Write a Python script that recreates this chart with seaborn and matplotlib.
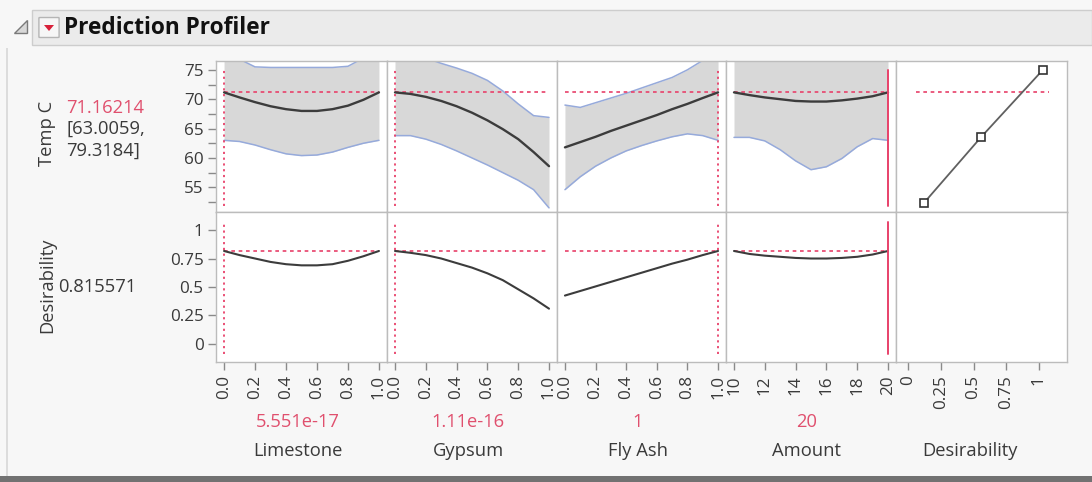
import matplotlib
matplotlib.use("Agg")
import matplotlib.pyplot as plt
from matplotlib.patches import Rectangle, FancyBboxPatch, Polygon
import numpy as np
import pandas as pd
import seaborn as sns

# ---------------- data ----------------
factor_names = ["Limestone", "Gypsum", "Fly Ash", "Amount"]
current_values = [5.551e-17, 1.11e-16, 1.0, 20.0]
current_labels = ["5.551e-17", "1.11e-16", "1", "20"]
factor_ranges = [(0.0, 1.0), (0.0, 1.0), (0.0, 1.0), (10.0, 20.0)]
mixture_ticks = [0.0, 0.2, 0.4, 0.6, 0.8, 1.0]
mixture_ticklabels = ["0.0", "0.2", "0.4", "0.6", "0.8", "1.0"]
amount_ticks = [10, 12, 14, 16, 18, 20]
amount_ticklabels = ["10", "12", "14", "16", "18", "20"]

mixture_grid = [0.0, 0.1, 0.2, 0.3, 0.4, 0.5, 0.6, 0.7, 0.8, 0.9, 1.0]
amount_grid = [10, 11, 12, 13, 14, 15, 16, 17, 18, 19, 20]

temp_mean_limestone = [71.16, 70.3, 69.5, 68.8, 68.3, 68.0, 68.0, 68.3, 68.9, 69.9, 71.16]
temp_lower_limestone = [63.0, 62.8, 62.2, 61.4, 60.7, 60.4, 60.5, 61.0, 61.8, 62.5, 63.0]
temp_upper_limestone = [79.3, 76.8, 75.5, 75.4, 75.4, 75.4, 75.4, 75.4, 75.6, 77.0, 79.3]

temp_mean_gypsum = [71.16, 70.9, 70.4, 69.7, 68.8, 67.7, 66.4, 64.9, 63.2, 61.0, 58.6]
temp_lower_gypsum = [63.8, 63.8, 63.2, 62.3, 61.2, 60.0, 58.8, 57.5, 56.2, 54.6, 51.5]
temp_upper_gypsum = [78.5, 77.8, 77.0, 76.1, 75.3, 74.4, 73.2, 71.4, 69.2, 67.2, 66.9]

temp_mean_flyash = [61.8, 62.7, 63.6, 64.6, 65.5, 66.4, 67.3, 68.3, 69.2, 70.2, 71.16]
temp_lower_flyash = [54.6, 56.8, 58.6, 60.0, 61.2, 62.1, 62.9, 63.6, 64.1, 63.8, 63.0]
temp_upper_flyash = [69.0, 68.6, 69.4, 70.2, 71.0, 71.9, 72.8, 73.7, 75.0, 76.6, 79.3]

temp_mean_amount = [71.16, 70.7, 70.3, 70.0, 69.7, 69.6, 69.6, 69.8, 70.1, 70.5, 71.16]
temp_lower_amount = [63.5, 63.5, 62.9, 61.4, 59.5, 58.0, 58.5, 59.9, 61.9, 63.3, 63.0]
temp_upper_amount = [78.8, 77.8, 77.6, 78.5, 79.8, 81.3, 81.0, 79.8, 78.3, 77.7, 79.3]

desir_limestone = [0.816, 0.78, 0.75, 0.72, 0.70, 0.69, 0.69, 0.70, 0.73, 0.77, 0.816]
desir_gypsum = [0.816, 0.80, 0.78, 0.75, 0.71, 0.67, 0.62, 0.56, 0.48, 0.40, 0.31]
desir_flyash = [0.425, 0.465, 0.505, 0.545, 0.585, 0.625, 0.665, 0.705, 0.74, 0.78, 0.816]
desir_amount = [0.816, 0.79, 0.775, 0.765, 0.755, 0.75, 0.75, 0.755, 0.765, 0.785, 0.816]

predicted_temp = 71.16214
temp_ci = ["63.0059", "79.3184"]
overall_desirability = 0.815571

desir_fn_desirability = [0.12, 0.56, 1.03]
desir_fn_temp = [52.3, 63.6, 75.0]

temp_yticks = [55, 60, 65, 70, 75]
temp_minor_yticks = [52.5, 57.5, 62.5, 67.5, 72.5]
desir_ticks = [0, 0.25, 0.5, 0.75, 1]
desir_ticklabels = ["0", "0.25", "0.5", "0.75", "1"]

grids = [mixture_grid, mixture_grid, mixture_grid, amount_grid]
temp_means = [temp_mean_limestone, temp_mean_gypsum, temp_mean_flyash, temp_mean_amount]
temp_lowers = [temp_lower_limestone, temp_lower_gypsum, temp_lower_flyash, temp_lower_amount]
temp_uppers = [temp_upper_limestone, temp_upper_gypsum, temp_upper_flyash, temp_upper_amount]
desirs = [desir_limestone, desir_gypsum, desir_flyash, desir_amount]
tick_sets = [(mixture_ticks, mixture_ticklabels)] * 3 + [(amount_ticks, amount_ticklabels)]

# ---------------- style ----------------
sns.set_theme(style="white")
plt.rcParams["font.family"] = ["Open Sans", "DejaVu Sans"]

W, H = 1092, 482
RED = "#e8416a"
REDTXT = "#e0506e"
TXT = "#3a3a3a"
SPINE = "#bcbcbc"
FS = 13.2
TICKFS = 12.3
fig = plt.figure(figsize=(W / 100, H / 100), dpi=100, facecolor="#f7f7f7")


def fx(x):
    return x / W


def fy(y):
    return 1 - y / H


def add_ax(l, t, r, b):
    return fig.add_axes([l / W, 1 - b / H, (r - l) / W, (b - t) / H])


# frame decorations
fig.patches.append(Rectangle((fx(32), fy(45)), fx(1092) - fx(32), fy(10) - fy(45),
                             transform=fig.transFigure, facecolor="#ebebeb",
                             edgecolor="#cdcdcd", lw=1))
fig.patches.append(Rectangle((fx(0), fy(482)), 1, fy(476) - fy(482),
                             transform=fig.transFigure, facecolor="#727272", lw=0))
fig.patches.append(Rectangle((fx(6), fy(476)), fx(2), fy(48) - fy(476),
                             transform=fig.transFigure, facecolor="#dcdcdc", lw=0))
fig.patches.append(Polygon([(fx(27), fy(20)), (fx(27), fy(33)), (fx(14), fy(33))],
                           closed=True, transform=fig.transFigure,
                           facecolor="#d8d8d8", edgecolor="#7a7a7a", lw=1))
fig.patches.append(FancyBboxPatch((fx(40), fy(37)), fx(18), fy(18) - fy(37),
                                  boxstyle="round,pad=0.001", transform=fig.transFigure,
                                  facecolor="#f6f6f6", edgecolor="#b5b5b5", lw=1))
fig.patches.append(Polygon([(fx(44), fy(25)), (fx(54), fy(25)), (fx(49), fy(31))],
                           closed=True, transform=fig.transFigure,
                           facecolor="#d8203a", lw=0))
fig.text(fx(64), fy(28), "Prediction Profiler", fontsize=16.3, fontweight="bold",
         color="#111111", va="center", ha="left")

# panel layout
xs = [216, 387, 557, 726, 896, 1067]
TOP, MID, BOT = 61, 212, 362
temp_ylim = (50.8, 76.5)
desir_ylim = (-0.158, 1.158)


def style_axes(ax):
    ax.set_facecolor("white")
    for s in ax.spines.values():
        s.set_color(SPINE)
        s.set_linewidth(1)
    ax.set_xlabel("")
    ax.set_ylabel("")


for i in range(4):
    lo, hi = factor_ranges[i]
    span = hi - lo
    xlim = (lo - 8 / 154 * span, hi + 8 / 154 * span)
    df = pd.DataFrame({"x": grids[i], "mean": temp_means[i], "lower": temp_lowers[i],
                       "upper": temp_uppers[i], "desir": desirs[i]})

    # ---- Temp C row ----
    ax = add_ax(xs[i], TOP, xs[i + 1], MID)
    ax.fill_between(df["x"], df["lower"], df["upper"], color="#d8d8d8", lw=0, zorder=1)
    sns.lineplot(data=df, x="x", y="lower", ax=ax, color="#96aadb", lw=1.1, zorder=2)
    sns.lineplot(data=df, x="x", y="upper", ax=ax, color="#96aadb", lw=1.1, zorder=2)
    sns.lineplot(data=df, x="x", y="mean", ax=ax, color="#3c3c3c", lw=1.7, zorder=4)
    ax.plot([lo, hi], [predicted_temp, predicted_temp], color=RED, lw=1.2,
            ls=(0, (2.2, 2.2)), zorder=3)
    cv = current_values[i]
    if i == 3:
        ax.plot([cv, cv], [51.9, 75.0], color=RED, lw=1.4, zorder=5)
    else:
        ax.plot([cv, cv], [51.9, 75.0], color=RED, lw=1.3, ls=(0, (1.2, 2.0)), zorder=5)
    ax.set_xlim(*xlim)
    ax.set_ylim(*temp_ylim)
    style_axes(ax)
    ax.set_xticks([])
    if i == 0:
        ax.set_yticks(temp_yticks)
        ax.set_yticklabels([str(v) for v in temp_yticks])
        ax.set_yticks(temp_minor_yticks, minor=True)
        ax.tick_params(axis="y", which="both", left=True, length=6, width=1,
                       color="#8a8a8a", labelsize=TICKFS, labelcolor=TXT, pad=3)
    else:
        ax.set_yticks([])

    # ---- Desirability row ----
    ax2 = add_ax(xs[i], MID, xs[i + 1], BOT)
    sns.lineplot(data=df, x="x", y="desir", ax=ax2, color="#3c3c3c", lw=1.5, zorder=4)
    ax2.plot([lo, hi], [overall_desirability, overall_desirability], color=RED, lw=1.2,
             ls=(0, (2.2, 2.2)), zorder=3)
    if i == 3:
        ax2.plot([cv, cv], [-0.09, 1.07], color=RED, lw=1.4, zorder=5)
    else:
        ax2.plot([cv, cv], [-0.09, 1.07], color=RED, lw=1.3, ls=(0, (1.2, 2.0)), zorder=5)
    ax2.set_xlim(*xlim)
    ax2.set_ylim(*desir_ylim)
    style_axes(ax2)
    ticks, labels = tick_sets[i]
    ax2.set_xticks(ticks)
    ax2.set_xticklabels(labels, rotation=90)
    ax2.tick_params(axis="x", bottom=True, length=5.5, width=1, color="#8a8a8a",
                    labelsize=TICKFS, labelcolor=TXT, pad=4)
    if i == 0:
        ax2.set_yticks(desir_ticks)
        ax2.set_yticklabels(desir_ticklabels)
        ax2.tick_params(axis="y", left=True, length=6, width=1, color="#8a8a8a",
                        labelsize=TICKFS, labelcolor=TXT, pad=3)
    else:
        ax2.set_yticks([])

    cx = (xs[i] + xs[i + 1]) / 2 - 4
    fig.text(fx(cx), fy(422), current_labels[i], color=REDTXT, fontsize=FS,
             ha="center", va="center")
    fig.text(fx(cx), fy(451), factor_names[i], color=TXT, fontsize=FS,
             ha="center", va="center")

# desirability function panel
dxlim = (-12 / 131, 1 + 28 / 131)
ax = add_ax(xs[4], TOP, xs[5], MID)
dfd = pd.DataFrame({"d": desir_fn_desirability, "t": desir_fn_temp})
sns.lineplot(data=dfd, x="d", y="t", ax=ax, color="#606060", lw=1.3, marker="s",
             markersize=6, markerfacecolor="white", markeredgecolor="#333333",
             markeredgewidth=1.2, zorder=4)
ax.plot([0.06, 1.08], [predicted_temp, predicted_temp], color=RED, lw=1.2,
        ls=(0, (2.2, 2.2)), zorder=3)
ax.set_xlim(*dxlim)
ax.set_ylim(*temp_ylim)
style_axes(ax)
ax.set_xticks([])
ax.set_yticks([])

ax2 = add_ax(xs[4], MID, xs[5], BOT)
ax2.set_xlim(*dxlim)
ax2.set_ylim(*desir_ylim)
style_axes(ax2)
ax2.set_yticks([])
ax2.set_xticks(desir_ticks)
ax2.set_xticklabels(desir_ticklabels, rotation=90)
ax2.tick_params(axis="x", bottom=True, length=5.5, width=1, color="#8a8a8a",
                labelsize=TICKFS, labelcolor=TXT, pad=4)
fig.text(fx(970), fy(451), "Desirability", color=TXT, fontsize=FS,
         ha="center", va="center")

# left response labels
fig.text(fx(47), fy(133), "Temp C", rotation=90, color=TXT, fontsize=FS,
         ha="center", va="center")
fig.text(fx(66), fy(108), f"{predicted_temp:.5f}", color=REDTXT, fontsize=FS,
         ha="left", va="center")
fig.text(fx(66), fy(129), f"[{temp_ci[0]},", color=TXT, fontsize=FS,
         ha="left", va="center")
fig.text(fx(66), fy(151), f"{temp_ci[1]}]", color=TXT, fontsize=FS,
         ha="left", va="center")
fig.text(fx(47), fy(285), "Desirability", rotation=90, color=TXT, fontsize=FS,
         ha="center", va="center")
fig.text(fx(58), fy(287), f"{overall_desirability:.6f}", color=TXT, fontsize=FS,
         ha="left", va="center")

fig.savefig("out.png", dpi=100, facecolor=fig.get_facecolor())
